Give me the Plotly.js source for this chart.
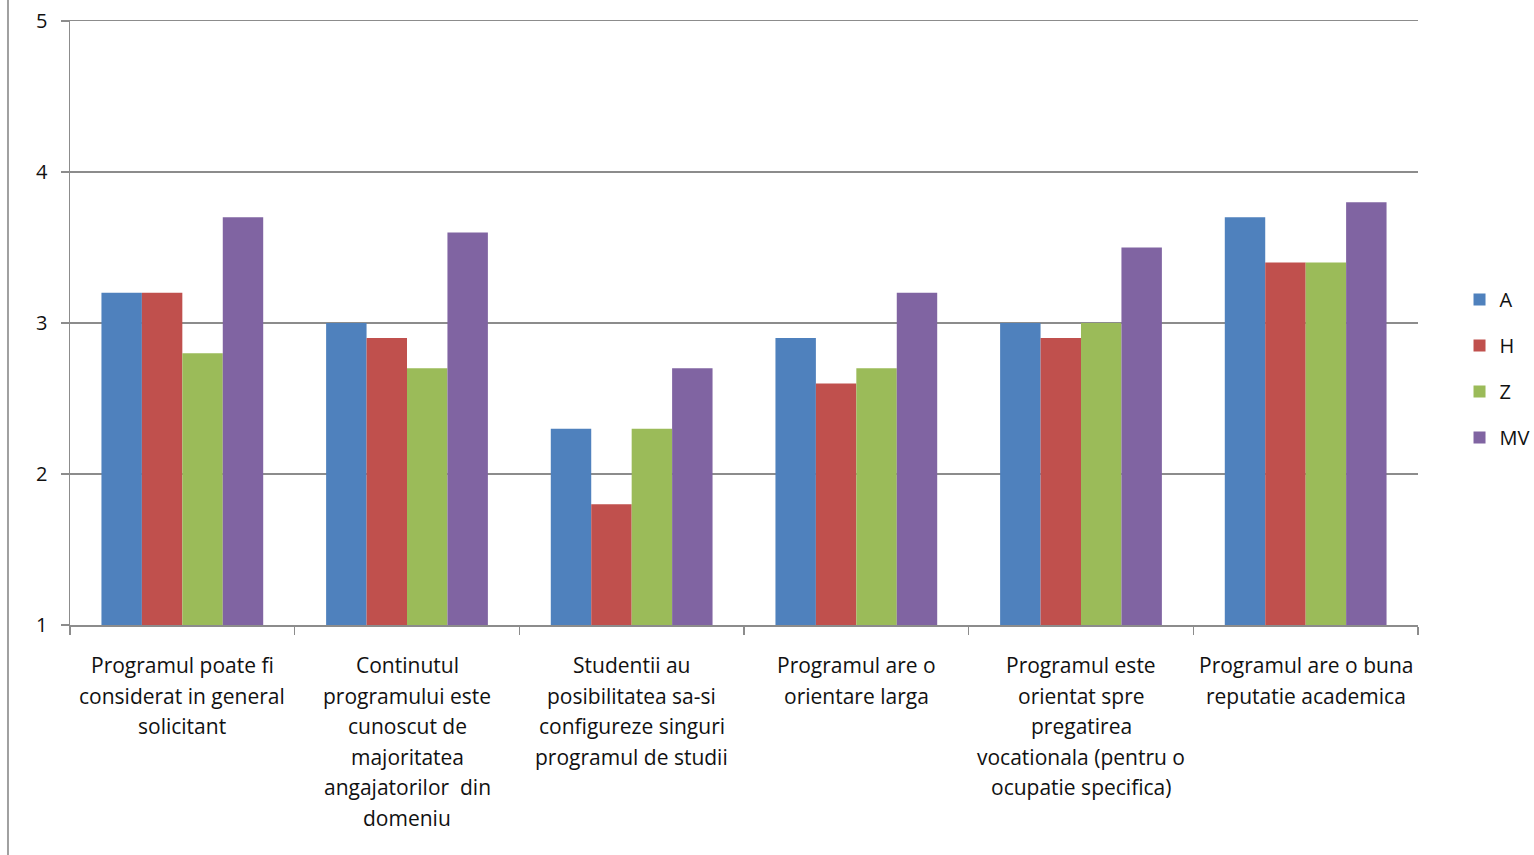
<!DOCTYPE html>
<html>
<head>
<meta charset="utf-8">
<script src="https://cdn.plot.ly/plotly-3.0.1.min.js"></script>
<style>html,body{margin:0;padding:0;background:#fff;}#chart{width:1534px;height:855px;}</style>
</head>
<body>
<div id="chart"></div>
<script>
const categories = ["c1", "c2", "c3", "c4", "c5", "c6"];
const categoryLabels = [
  ["Programul poate fi", "considerat in general", "solicitant"],
  ["Continutul", "programului este", "cunoscut de", "majoritatea", "angajatorilor  din", "domeniu"],
  ["Studentii au", "posibilitatea sa-si", "configureze singuri", "programul de studii"],
  ["Programul are o", "orientare larga"],
  ["Programul este", "orientat spre", "pregatirea", "vocationala (pentru o", "ocupatie specifica)"],
  ["Programul are o buna", "reputatie academica"]
];
const seriesNames = ["A", "H", "Z", "MV"];
const valuesA  = [3.2, 3.0, 2.3, 2.9, 3.0, 3.7];
const valuesH  = [3.2, 2.9, 1.8, 2.6, 2.9, 3.4];
const valuesZ  = [2.8, 2.7, 2.3, 2.7, 3.0, 3.4];
const valuesMV = [3.7, 3.6, 2.7, 3.2, 3.5, 3.8];
const yTicks = [1, 2, 3, 4, 5];

const colors = ["#4F81BD", "#C0504D", "#9BBB59", "#8064A2"];
const allValues = [valuesA, valuesH, valuesZ, valuesMV];

const traces = allValues.map((v, i) => ({
  type: "bar",
  name: seriesNames[i],
  x: categories,
  y: v,
  marker: {color: colors[i], line: {width: 0}},
  legendgroup: seriesNames[i],
  hoverinfo: "none"
}));

const fontFam = "Open Sans, Liberation Sans, Arial, sans-serif";
const textColor = "#111";
const annotations = [];
categoryLabels.forEach((lines, ci) => {
  lines.forEach((t, li) => {
    annotations.push({
      xref: "x", yref: "paper", x: categories[ci], y: 0,
      yanchor: "middle", xanchor: "center",
      yshift: -40 - li * 30.6,
      text: t, showarrow: false,
      font: {family: fontFam, size: 21, color: textColor}
    });
  });
});

const gray = "#8c8c8c";
const layout = {
  width: 1534, height: 855,
  margin: {l: 70, r: 116, t: 21, b: 230, autoexpand: false},
  paper_bgcolor: "#fff", plot_bgcolor: "#fff",
  barmode: "group", bargap: 0.28, bargroupgap: 0,
  font: {family: fontFam, size: 20, color: textColor},
  xaxis: {
    type: "category", showticklabels: false,
    showline: true, linecolor: gray, linewidth: 1.5, mirror: true,
    ticks: "outside", tickson: "boundaries", ticklen: 8, tickcolor: gray, tickwidth: 1.5,
    showgrid: false, zeroline: false, fixedrange: true, automargin: false
  },
  yaxis: {
    range: [1, 5], tickvals: yTicks, ticktext: yTicks.map(String),
    showline: true, linecolor: gray, linewidth: 1.5,
    ticks: "outside", ticklen: 8, tickcolor: gray, tickwidth: 1.5,
    showgrid: true, gridcolor: gray, gridwidth: 1.5,
    zeroline: false, fixedrange: true, automargin: false,
    tickfont: {family: fontFam, size: 20, color: textColor},
    ticklabelstandoff: 9
  },
  showlegend: true,
  legend: {
    x: 1.0308, xanchor: "left", y: 0.4247, yanchor: "middle",
    traceorder: "grouped", tracegroupgap: 17,
    font: {family: fontFam, size: 20, color: textColor},
    itemwidth: 30, bgcolor: "rgba(0,0,0,0)"
  },
  shapes: [{
    type: "line", xref: "paper", yref: "paper",
    x0: -0.046, x1: -0.046, y0: -0.5, y1: 1.05,
    line: {color: "#a0a0a0", width: 2}
  }],
  annotations: annotations
};

Plotly.newPlot("chart", traces, layout, {displayModeBar: false, staticPlot: true});
</script>
</body>
</html>
